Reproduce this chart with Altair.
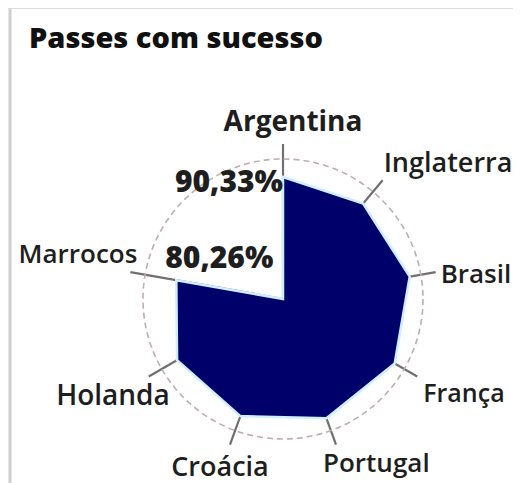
import altair as alt
import pandas as pd

# ---- data ----
countries = ["Argentina", "Inglaterra", "Brasil", "França", "Portugal", "Croácia", "Holanda", "Marrocos"]
values = [90.33, 92.3, 95.3, 95.5, 94.0, 92.3, 90.6, 80.26]
annotated = ["Argentina", "Marrocos"]
title_text = "Passes com sucesso"

# ---- layout / style ----
N_SLOTS = len(countries) + 1          # one empty spoke (closes through the centre)
PX = 1.35                             # pixels per percentage point
W, H = 505, 475
CX, CY = 275, 291
SPOKE = 155
RING = 140
FONT = "Open Sans"
TXT = "#1e1e1e"

xs = alt.Scale(domain=[-CX, W - CX])
ys = alt.Scale(domain=[-(H - CY), CY])

def X(f):
    return alt.X(f, type="quantitative", scale=xs, axis=None)

def Y(f):
    return alt.Y(f, type="quantitative", scale=ys, axis=None)

ang = f"datum.idx * 2 * PI / {N_SLOTS}"

poly_df = pd.DataFrame({
    "name": countries + [""],
    "value": values + [0.0],
    "idx": list(range(N_SLOTS)),
})
cat_df = pd.DataFrame({"name": countries, "value": values, "idx": list(range(len(countries)))})
one = pd.DataFrame({"a": [0]})

# border of the box
border_left = alt.Chart(one).mark_rule(color="#cfcfcf", strokeWidth=3).encode(
    x=alt.value(2), y=alt.value(0), y2=alt.value(H))
border_top = alt.Chart(one).mark_rule(color="#dddddd", strokeWidth=2).encode(
    x=alt.value(0), x2=alt.value(W), y=alt.value(0))

title = alt.Chart(pd.DataFrame({"t": [title_text]})).mark_text(
    align="left", baseline="alphabetic", font=FONT, fontSize=29, fontWeight=800,
    color="#111111").encode(
    x=alt.value(21), y=alt.value(40), text="t:N")

# spokes
spokes = alt.Chart(cat_df).transform_calculate(
    ang=ang, x0="0", y0="0",
    x1=f"{SPOKE} * sin(datum.ang)", y1=f"{SPOKE} * cos(datum.ang)"
).mark_rule(color="#707070", strokeWidth=2.2).encode(
    x=X("x0"), y=Y("y0"), x2="x1:Q", y2="y1:Q")

# dashed ring
ring = alt.Chart(one).transform_calculate(x0="0", y0="0").mark_point(
    shape="circle", size=(2 * RING) ** 2, filled=False, color="#bfaeae",
    strokeWidth=1.6, strokeDash=[6, 4], opacity=1).encode(x=X("x0"), y=Y("y0"))

# polygon
polygon = alt.Chart(poly_df).transform_calculate(
    ang=ang, r=f"datum.value * {PX}",
    x="datum.r * sin(datum.ang)", y="datum.r * cos(datum.ang)"
).mark_line(interpolate="linear-closed", filled=True, fill="#00006a",
            stroke="#cdefff", strokeWidth=2.5, strokeJoin="miter").encode(
    x=X("x"), y=Y("y"), order=alt.Order("idx:Q"))

# country labels
LABEL_STYLE = {
    "Argentina": ("center", 10, -13, 28, 700),
    "Inglaterra": ("left", 1, -8, 27, 600),
    "Brasil": ("left", 5, 11, 26, 600),
    "França": ("left", 6, 25, 25, 600),
    "Portugal": ("left", -13, 27, 26, 600),
    "Croácia": ("center", -10, 31, 27, 600),
    "Holanda": ("right", 21, 28, 28, 600),
    "Marrocos": ("right", 7, -9, 26, 600),
}
label_layers = []
for c in countries:
    al, dx, dy, fs, fw = LABEL_STYLE[c]
    label_layers.append(
        alt.Chart(cat_df).transform_filter(alt.datum.name == c).transform_calculate(
            ang=ang, x=f"{SPOKE} * sin(datum.ang)", y=f"{SPOKE} * cos(datum.ang)"
        ).mark_text(align=al, baseline="alphabetic", dx=dx, dy=dy, font=FONT,
                    fontSize=fs, fontWeight=fw, color=TXT).encode(
            x=X("x"), y=Y("y"), text="name:N")
    )

# value annotations
ANN_STYLE = {
    "Argentina": ("right", 0, 15),
    "Marrocos": ("left", -11, -12),
}
ann_layers = []
for c in annotated:
    al, dx, dy = ANN_STYLE[c]
    v = values[countries.index(c)]
    txt = f"{v:.2f}".replace(".", ",") + "%"
    ann_layers.append(
        alt.Chart(cat_df).transform_filter(alt.datum.name == c).transform_calculate(
            ang=ang, r=f"datum.value * {PX}",
            x="datum.r * sin(datum.ang)", y="datum.r * cos(datum.ang)",
            lab=f"'{txt}'"
        ).mark_text(align=al, baseline="alphabetic", dx=dx, dy=dy, font=FONT,
                    fontSize=30, fontWeight=800, color=TXT).encode(
            x=X("x"), y=Y("y"), text="lab:N")
    )

chart = alt.layer(
    border_left, border_top, title, spokes, ring, polygon, *label_layers, *ann_layers
).properties(
    width=W, height=H, padding=0, autosize=alt.AutoSizeParams(type="none")
).configure_view(stroke=None)

chart.save("out.html", embed_options={"renderer": "svg", "actions": False})
